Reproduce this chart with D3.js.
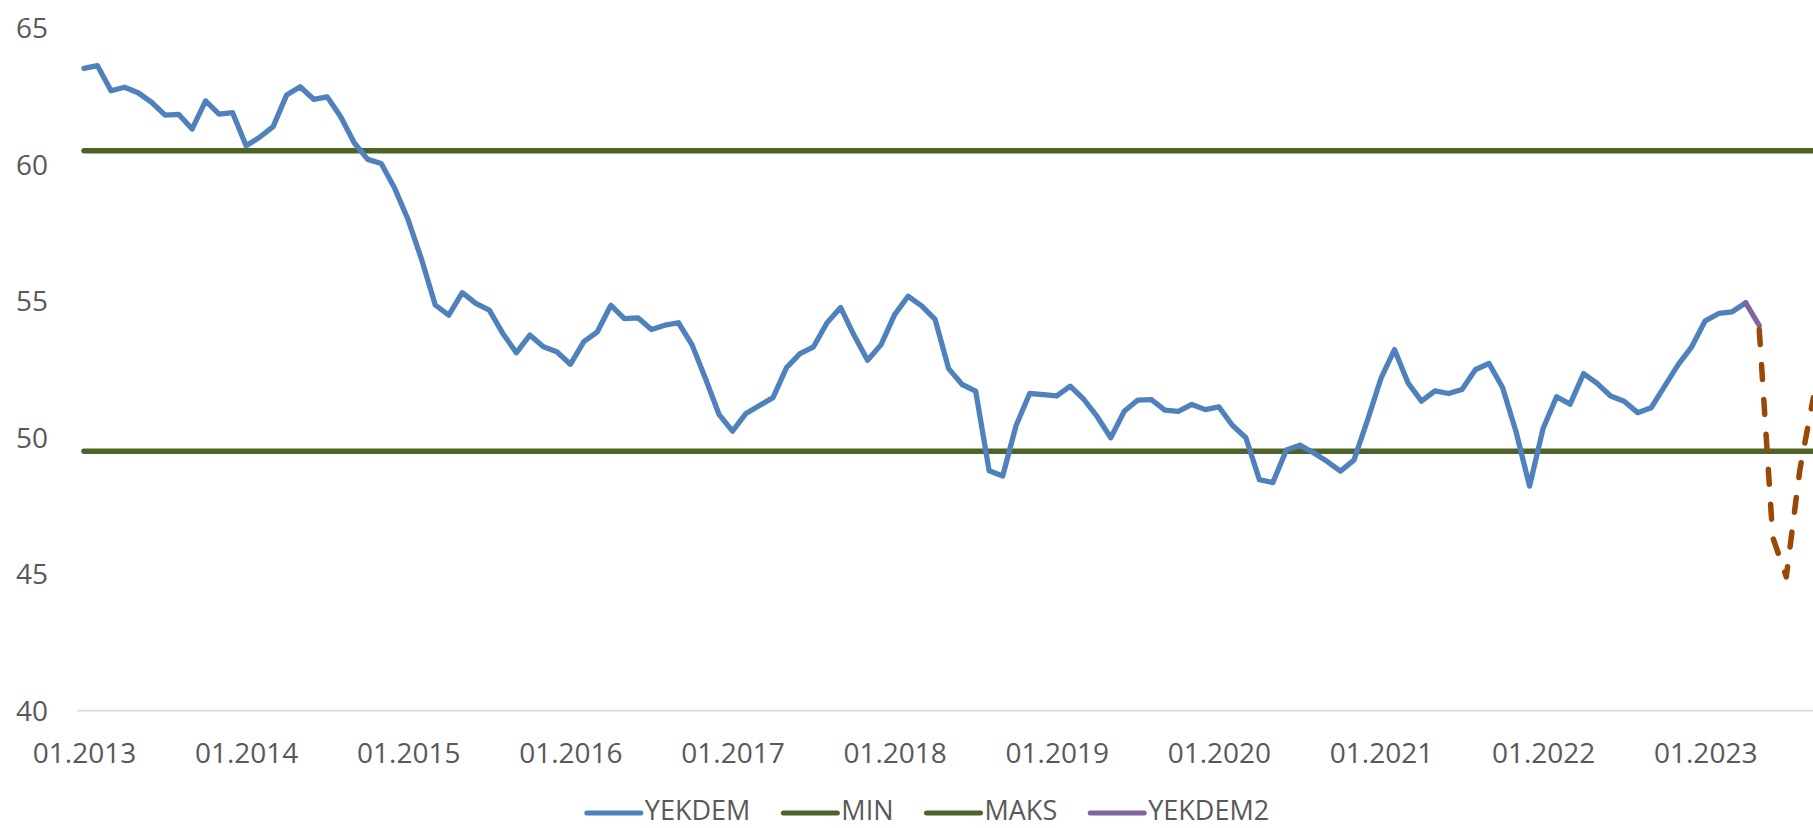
<!DOCTYPE html>
<html><head><meta charset="utf-8">
<script src="https://cdn.jsdelivr.net/npm/d3@7/dist/d3.min.js"></script>
<style>html,body{margin:0;padding:0;background:#fff;overflow:hidden}</style>
</head><body>
<svg id="c" width="1813" height="828"></svg>
<script>
// ---- data ----
const yTicks = [40, 45, 50, 55, 60, 65];
const xTickLabels = ["01.2013","01.2014","01.2015","01.2016","01.2017","01.2018","01.2019","01.2020","01.2021","01.2022","01.2023"];
const yekdem = [
 63.51,63.61,62.69,62.82,62.62,62.27,61.80,61.83,61.29,62.32,61.84,61.89,
 60.68,60.99,61.38,62.54,62.84,62.38,62.47,61.74,60.79,60.18,60.03,59.12,
 57.96,56.50,54.85,54.48,55.30,54.91,54.66,53.81,53.10,53.75,53.32,53.14,
 52.68,53.51,53.87,54.84,54.35,54.38,53.95,54.11,54.20,53.40,52.16,50.85,
 50.23,50.88,51.17,51.46,52.56,53.07,53.32,54.20,54.76,53.74,52.83,53.40,
 54.50,55.17,54.82,54.32,52.52,51.94,51.70,48.78,48.59,50.45,51.61,51.57,
 51.52,51.88,51.40,50.76,49.99,50.96,51.37,51.39,51.00,50.96,51.21,51.02,
 51.12,50.45,49.99,48.46,48.35,49.54,49.72,49.44,49.13,48.77,49.17,50.63,
 52.16,53.22,52.00,51.33,51.71,51.61,51.76,52.49,52.71,51.83,50.21,48.22,
 50.33,51.49,51.22,52.34,51.98,51.52,51.33,50.91,51.09,51.88,52.67,53.32,
 54.27,54.54,54.60,54.93
];
const yekdem2Start = 123;
const yekdem2 = [54.93, 54.1];
const forecastStart = 124;
const forecast = [53.95, 46.35, 44.9, 48.8, 51.45];
const minLevel = 49.5;
const maxLevel = 60.5;
const levelMonths = [0, 130];
const legendNames = ["YEKDEM", "MIN", "MAKS", "YEKDEM2"];

// ---- styles ----
const C_BLUE = "#4f81bd", C_GREEN = "#4f6228", C_PURPLE = "#8064a2", C_BROWN = "#984807";
const TXT = "#595959";
const FONT = "'Open Sans', sans-serif";

const svg = d3.select("#c");
svg.append("rect").attr("width",1813).attr("height",828).attr("fill","#fff");

const x = d3.scaleLinear().domain([0, 120]).range([84, 1705.2]);
const y = d3.scaleLinear().domain([40, 65]).range([710.7, 27.7]);

// baseline gridline (x axis)
svg.append("line")
  .attr("x1", x(-0.5)).attr("x2", x(132)).attr("y1", y(40)).attr("y2", y(40))
  .attr("stroke", "#d9d9d9").attr("stroke-width", 1.8);

// y axis labels
const yAxis = d3.axisLeft(y).tickValues(yTicks).tickSize(0).tickPadding(0);
const gy = svg.append("g").attr("transform", "translate(48,0)").call(yAxis);
gy.select(".domain").remove();
gy.selectAll("text").attr("font-family", FONT).attr("font-size", 28).attr("fill", TXT).attr("dy", "0.35em");

// x axis labels
const xAxis = d3.axisBottom(x).tickValues(xTickLabels.map((d,i)=>i*12))
  .tickFormat((d,i)=>xTickLabels[i]).tickSize(0).tickPadding(0);
const gx = svg.append("g").attr("transform", "translate(0,743)").call(xAxis);
gx.select(".domain").remove();
gx.selectAll("text").attr("font-family", FONT).attr("font-size", 28).attr("fill", TXT).attr("dy", "0.71em");

const line = d3.line().x(d=>x(d[0])).y(d=>y(d[1]));

// MIN / MAKS
[minLevel, maxLevel].forEach(v=>{
  svg.append("path").datum(levelMonths.map(m=>[m, v]))
    .attr("d", line).attr("fill","none").attr("stroke", C_GREEN)
    .attr("stroke-width", 5.5).attr("stroke-linecap","round");
});

// YEKDEM
svg.append("path").datum(yekdem.map((v,i)=>[i, v]))
  .attr("d", line).attr("fill","none").attr("stroke", C_BLUE)
  .attr("stroke-width", 5.3).attr("stroke-linejoin","round").attr("stroke-linecap","round");

// YEKDEM2
svg.append("path").datum(yekdem2.map((v,i)=>[yekdem2Start+i, v]))
  .attr("d", line).attr("fill","none").attr("stroke", C_PURPLE)
  .attr("stroke-width", 5.3).attr("stroke-linecap","round");

// forecast (dashed)
svg.append("path").datum(forecast.map((v,i)=>[forecastStart+i, v]))
  .attr("d", line).attr("fill","none").attr("stroke", C_BROWN)
  .attr("stroke-width", 5.5).attr("stroke-linecap","round").attr("stroke-linejoin","round")
  .attr("stroke-dasharray","15,20");

// legend
const legendColors = [C_BLUE, C_GREEN, C_GREEN, C_PURPLE];
const lg = svg.append("g");
const items = [];
legendNames.forEach((n,i)=>{
  const g = lg.append("g");
  g.append("line").attr("x1",0).attr("x2",54).attr("y1",0).attr("y2",0)
    .attr("stroke", legendColors[i]).attr("stroke-width", 5).attr("stroke-linecap","round");
  const t = g.append("text").attr("x",58).attr("y",7)
    .attr("font-family", FONT).attr("font-size", 27).attr("fill", TXT).text(n);
  const w = 58 + t.node().getComputedTextLength();
  items.push({g, w});
});
const gap = 33;
const total = items.reduce((s,d)=>s+d.w,0) + gap*(items.length-1);
let start = 928 - total/2;
items.forEach(d=>{ d.g.attr("transform", `translate(${start},813)`); start += d.w + gap; });
</script>
</body></html>
